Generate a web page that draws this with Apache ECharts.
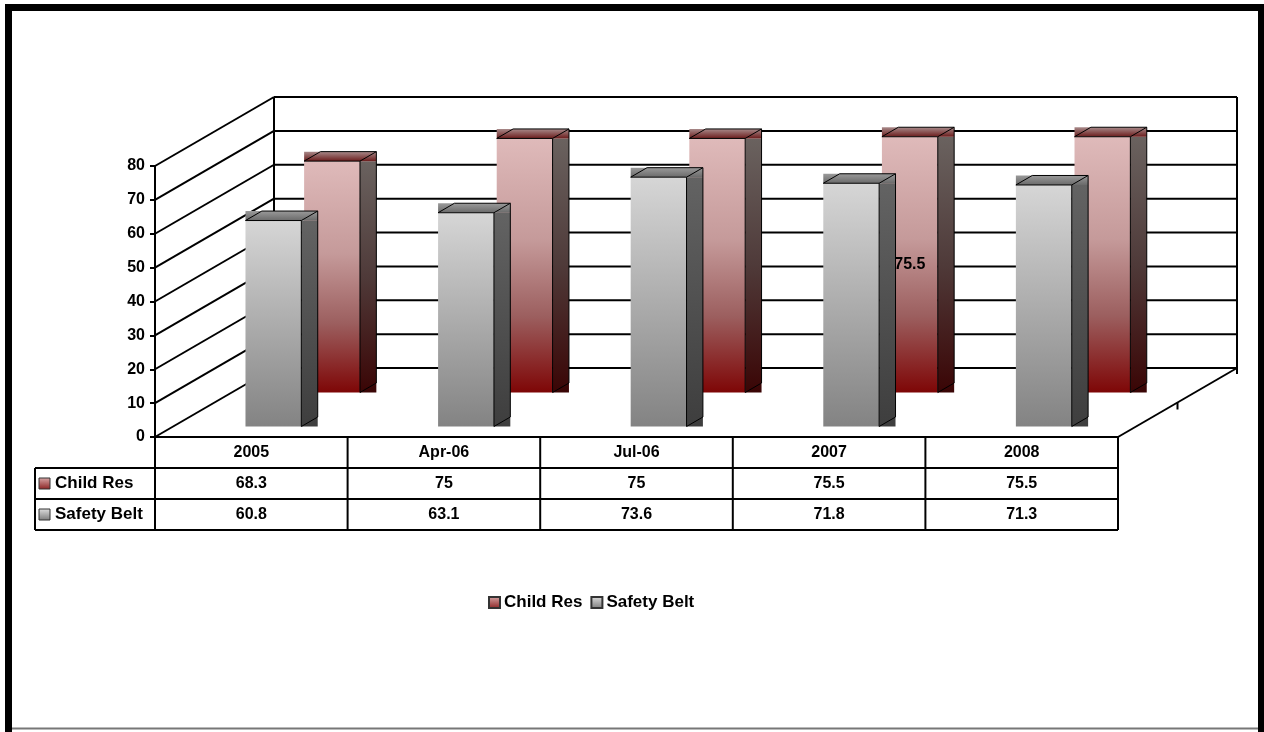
<!DOCTYPE html>
<html>
<head>
<meta charset="utf-8">
<script src="https://cdn.jsdelivr.net/npm/echarts@6/dist/echarts.min.js"></script>
<style>
  html, body { margin: 0; padding: 0; background: #fff; }
  #chart { width: 1264px; height: 732px; }
</style>
</head>
<body>
<div id="chart"></div>
<script>
// ---- data ----
const categories = ['2005', 'Apr-06', 'Jul-06', '2007', '2008'];
const childRes = [68.3, 75, 75, 75.5, 75.5];
const safetyBelt = [60.8, 63.1, 73.6, 71.8, 71.3];
const yTicks = [0, 10, 20, 30, 40, 50, 60, 70, 80];
const seriesNames = ['Child Res', 'Safety Belt'];
const labelledIndex = 3; // the Child Res column that carries a value label

// ---- styling / projection constants ----
const FONT = '"Liberation Sans", Arial, sans-serif';
const DEPTH_X = 119, DEPTH_Y = 69;          // oblique offset of the back wall
const K = DEPTH_X / DEPTH_Y;
const ROW_H = 31;                            // data table row height
const TABLE_LEFT = 35;
const LINE = { stroke: '#000', lineWidth: 2 };

const grad = (stops) => new echarts.graphic.LinearGradient(0, 0, 0, 1,
  stops.map(([offset, color]) => ({ offset, color })));

const redPalette = {
  front: () => grad([[0, '#dfbaba'], [0.4, '#c59a9a'], [0.7, '#9c5f5f'], [1, '#7e0606']]),
  side: () => grad([[0, '#6a625f'], [0.5, '#4f3a39'], [1, '#3a0505']]),
  top: () => grad([[0, '#a88a8a'], [1, '#6b1c1c']]),
  swatch: () => grad([[0, '#d9a9a9'], [1, '#8a2020']])
};
const grayPalette = {
  front: () => grad([[0, '#d6d6d6'], [1, '#838383']]),
  side: () => grad([[0, '#636363'], [1, '#3e3e3e']]),
  top: () => grad([[0, '#9a9a9a'], [1, '#6a6a6a']]),
  swatch: () => grad([[0, '#e0e0e0'], [1, '#7a7a7a']])
};

// back wall, side wall and floor lines
function wallRenderer(params, api) {
  const v = api.value(1);
  const cs = params.coordSys;
  const y = api.coord([0, v])[1];
  const x0 = cs.x, x1 = cs.x + cs.width;
  const children = [
    { type: 'line', shape: { x1: x0, y1: y, x2: x0 + DEPTH_X, y2: y - DEPTH_Y }, style: LINE },
    { type: 'line', shape: { x1: x0 + DEPTH_X, y1: y - DEPTH_Y, x2: x1 + DEPTH_X, y2: y - DEPTH_Y }, style: LINE }
  ];
  if (v === yTicks[0]) {
    const yTop = api.coord([0, yTicks[yTicks.length - 1]])[1] - DEPTH_Y;
    children.push(
      { type: 'line', shape: { x1: x1, y1: y, x2: x1 + DEPTH_X, y2: y - DEPTH_Y }, style: LINE },
      { type: 'line', shape: { x1: x0 + DEPTH_X, y1: yTop, x2: x0 + DEPTH_X, y2: y - DEPTH_Y }, style: LINE },
      { type: 'line', shape: { x1: x1 + DEPTH_X, y1: yTop, x2: x1 + DEPTH_X, y2: y - DEPTH_Y + 6 }, style: LINE },
      { type: 'line', shape: { x1: x1 + DEPTH_X / 2, y1: y - DEPTH_Y / 2, x2: x1 + DEPTH_X / 2, y2: y - DEPTH_Y / 2 + 7 }, style: LINE }
    );
  }
  return { type: 'group', children };
}

// 3-D column drawn at a given depth row
function columnRenderer(rowFront, rowBack, palette, labelIdx) {
  return function (params, api) {
    const i = api.value(0), v = api.value(1);
    const base = api.coord([i, 0]);
    const top = api.coord([i, v]);
    const w = api.size([1, 0])[0] * 0.29;
    const sx = rowFront * K + 4, sy = rowFront;
    const dy = rowBack - rowFront, dx = dy * K;
    const L = base[0] + sx - w / 2, R = L + w;
    const T = top[1] - sy, B = base[1] - sy;
    const edge = { stroke: '#000', lineWidth: 1 };
    const children = [
      { type: 'rect', shape: { x: R, y: T, width: dx, height: B - T }, style: { fill: palette.side() } },
      { type: 'rect', shape: { x: L, y: T - dy, width: R + dx - L, height: dy }, style: { fill: palette.top() } },
      { type: 'rect', shape: { x: L, y: T, width: w, height: B - T }, style: { fill: palette.front() } },
      { type: 'polyline', shape: { points: [[L, T], [L + dx, T - dy], [R + dx, T - dy], [R, T], [L, T]] }, style: Object.assign({ fill: null }, edge) },
      { type: 'line', shape: { x1: R, y1: T, x2: R, y2: B }, style: edge },
      { type: 'line', shape: { x1: R, y1: B, x2: R + dx, y2: B - dy }, style: edge },
      { type: 'line', shape: { x1: R + dx, y1: T - dy, x2: R + dx, y2: B - dy }, style: edge }
    ];
    if (labelIdx === i) {
      children.push({
        type: 'text',
        style: {
          x: (L + R) / 2, y: (T + B) / 2, text: String(v),
          align: 'center', verticalAlign: 'middle',
          font: 'bold 16px ' + FONT, fill: '#000'
        }
      });
    }
    return { type: 'group', children };
  };
}

// data table under the plot
function tableRenderer(params, api) {
  const i = api.value(0);
  const cs = params.coordSys;
  const catW = api.size([1, 0])[0];
  const cx = api.coord([i, 0])[0];
  const y0 = cs.y + cs.height;
  const txt = (x, y, t, align, size) => ({
    type: 'text',
    style: { x, y, text: t, align: align || 'center', verticalAlign: 'middle', font: 'bold ' + (size || 16) + 'px ' + FONT, fill: '#000' }
  });
  const children = [
    { type: 'line', shape: { x1: cx + catW / 2, y1: y0, x2: cx + catW / 2, y2: y0 + 3 * ROW_H }, style: LINE },
    txt(cx, y0 + ROW_H / 2, categories[i]),
    txt(cx, y0 + ROW_H * 1.5, String(childRes[i])),
    txt(cx, y0 + ROW_H * 2.5, String(safetyBelt[i]))
  ];
  if (i === 0) {
    const x0 = cs.x, x1 = cs.x + cs.width;
    children.push(
      { type: 'line', shape: { x1: x0, y1: y0, x2: x0, y2: y0 + 3 * ROW_H }, style: LINE },
      { type: 'line', shape: { x1: TABLE_LEFT, y1: y0 + ROW_H, x2: x1, y2: y0 + ROW_H }, style: LINE },
      { type: 'line', shape: { x1: TABLE_LEFT, y1: y0 + 2 * ROW_H, x2: x1, y2: y0 + 2 * ROW_H }, style: LINE },
      { type: 'line', shape: { x1: TABLE_LEFT, y1: y0 + 3 * ROW_H, x2: x1, y2: y0 + 3 * ROW_H }, style: LINE },
      { type: 'line', shape: { x1: TABLE_LEFT, y1: y0 + ROW_H, x2: TABLE_LEFT, y2: y0 + 3 * ROW_H }, style: LINE },
      { type: 'rect', shape: { x: TABLE_LEFT + 4, y: y0 + ROW_H * 1.5 - 5.5, width: 11, height: 11 },
        style: { fill: redPalette.swatch(), stroke: '#333', lineWidth: 1 } },
      { type: 'rect', shape: { x: TABLE_LEFT + 4, y: y0 + ROW_H * 2.5 - 5.5, width: 11, height: 11 },
        style: { fill: grayPalette.swatch(), stroke: '#333', lineWidth: 1 } },
      txt(TABLE_LEFT + 20, y0 + ROW_H * 1.5, seriesNames[0], 'left', 17),
      txt(TABLE_LEFT + 20, y0 + ROW_H * 2.5, seriesNames[1], 'left', 17)
    );
  }
  return { type: 'group', children };
}

const chart = echarts.init(document.getElementById('chart'), null, { renderer: 'canvas' });

chart.setOption({
  animation: false,
  backgroundColor: '#fff',
  grid: { left: 155, top: 166, width: 963, height: 271, containLabel: false },
  xAxis: {
    type: 'category',
    data: categories,
    boundaryGap: true,
    axisLine: { show: true, lineStyle: { color: '#000', width: 2 } },
    axisTick: { show: false },
    axisLabel: { show: false },
    splitLine: { show: false }
  },
  yAxis: {
    type: 'value',
    min: 0, max: 80, interval: 10,
    axisLine: { show: true, lineStyle: { color: '#000', width: 2 } },
    axisTick: { show: true, length: 5, lineStyle: { color: '#000', width: 2 } },
    axisLabel: { margin: 10, color: '#000', fontWeight: 'bold', fontSize: 16, fontFamily: FONT },
    splitLine: { show: false }
  },
  legend: {
    data: seriesNames,
    left: 483, top: 589,
    itemWidth: 11, itemHeight: 11, itemGap: 8,
    icon: 'rect',
    selectedMode: false,
    textStyle: { color: '#000', fontWeight: 'bold', fontSize: 17, fontFamily: FONT, padding: [0, 0, 0, -1] }
  },
  graphic: [
    { type: 'rect', silent: true, z: 100, shape: { x: 8.5, y: 7.5, width: 1253, height: 730 },
      style: { fill: null, stroke: '#000', lineWidth: 7 } },
    { type: 'line', silent: true, z: 100, shape: { x1: 12, y1: 728.5, x2: 1258, y2: 728.5 },
      style: { stroke: '#777', lineWidth: 2 } }
  ],
  series: [
    {
      type: 'custom', name: 'walls', silent: true,
      renderItem: wallRenderer,
      data: yTicks.map(v => [0, v])
    },
    {
      type: 'custom', name: seriesNames[0], silent: true,
      itemStyle: { color: redPalette.swatch(), borderColor: '#333', borderWidth: 1 },
      renderItem: columnRenderer(44.5, 54, redPalette, labelledIndex),
      encode: { x: 0, y: 1 },
      data: childRes.map((v, i) => [i, v])
    },
    {
      type: 'custom', name: seriesNames[1], silent: true,
      itemStyle: { color: grayPalette.swatch(), borderColor: '#333', borderWidth: 1 },
      renderItem: columnRenderer(10.5, 20, grayPalette, -1),
      encode: { x: 0, y: 1 },
      data: safetyBelt.map((v, i) => [i, v])
    },
    {
      type: 'custom', name: 'table', silent: true,
      renderItem: tableRenderer,
      data: categories.map((c, i) => [i, 0])
    }
  ]
});
</script>
</body>
</html>
